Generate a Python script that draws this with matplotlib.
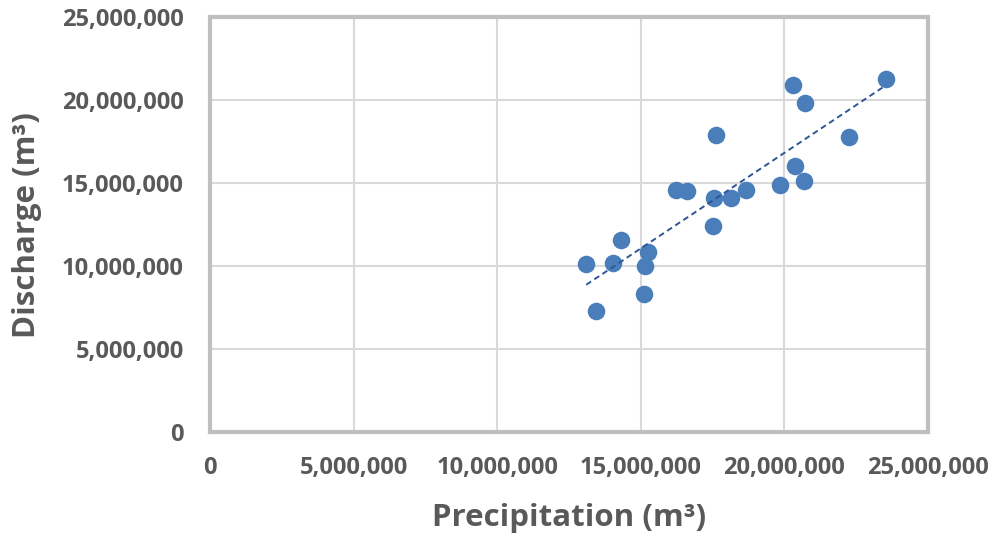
import numpy as np
import matplotlib.pyplot as plt
from matplotlib.ticker import FuncFormatter, MultipleLocator

# Precipitation vs discharge (m3)
precipitation = [13.10e6, 13.45e6, 14.04e6, 14.30e6, 15.12e6, 15.16e6, 15.26e6,
                 16.24e6, 16.62e6, 17.53e6, 17.56e6, 17.62e6, 18.14e6, 18.66e6,
                 19.86e6, 20.31e6, 20.38e6, 20.68e6, 20.73e6, 22.25e6, 23.53e6]
discharge = [10.10e6, 7.28e6, 10.20e6, 11.60e6, 8.30e6, 10.00e6, 10.85e6,
             14.60e6, 14.50e6, 12.40e6, 14.10e6, 17.90e6, 14.08e6, 14.58e6,
             14.90e6, 20.92e6, 16.05e6, 15.12e6, 19.82e6, 17.76e6, 21.25e6]

x = np.array(precipitation)
y = np.array(discharge)

grey = "#595959"
plt.rcParams["font.family"] = ["Open Sans", "DejaVu Sans"]

fig = plt.figure(figsize=(10, 5.36), dpi=100)
ax = fig.add_axes([0.21, 0.194, 0.718, 0.774])

ax.scatter(x, y, s=160, color="#4a7ebb", zorder=3, linewidths=0)

# linear trendline
slope, intercept = np.polyfit(x, y, 1)
xs = np.array([x.min(), x.max()])
ax.plot(xs, slope * xs + intercept, linestyle=(0, (3, 2)), color="#2f5597",
        linewidth=1.4, zorder=4)

ax.set_xlim(0, 25e6)
ax.set_ylim(0, 25e6)
ax.xaxis.set_major_locator(MultipleLocator(5e6))
ax.yaxis.set_major_locator(MultipleLocator(5e6))
fmt = FuncFormatter(lambda v, p: f"{int(v):,}")
ax.xaxis.set_major_formatter(fmt)
ax.yaxis.set_major_formatter(fmt)

ax.grid(True, color="#d9d9d9", linewidth=1.5, zorder=0)
ax.set_axisbelow(True)
for s in ax.spines.values():
    s.set_color("#bfbfbf")
    s.set_linewidth(3)

ax.tick_params(length=0, labelsize=17, labelcolor=grey)
ax.tick_params(axis="y", pad=19)
ax.tick_params(axis="x", pad=17)
for lab in ax.get_xticklabels() + ax.get_yticklabels():
    lab.set_fontweight("bold")

ax.set_xlabel("Precipitation (m³)", fontsize=22.5, fontweight="bold", color=grey, labelpad=17)
ax.set_ylabel("Discharge (m³)", fontsize=22.5, fontweight="bold", color=grey, labelpad=14)

fig.savefig("out.png", dpi=100)
